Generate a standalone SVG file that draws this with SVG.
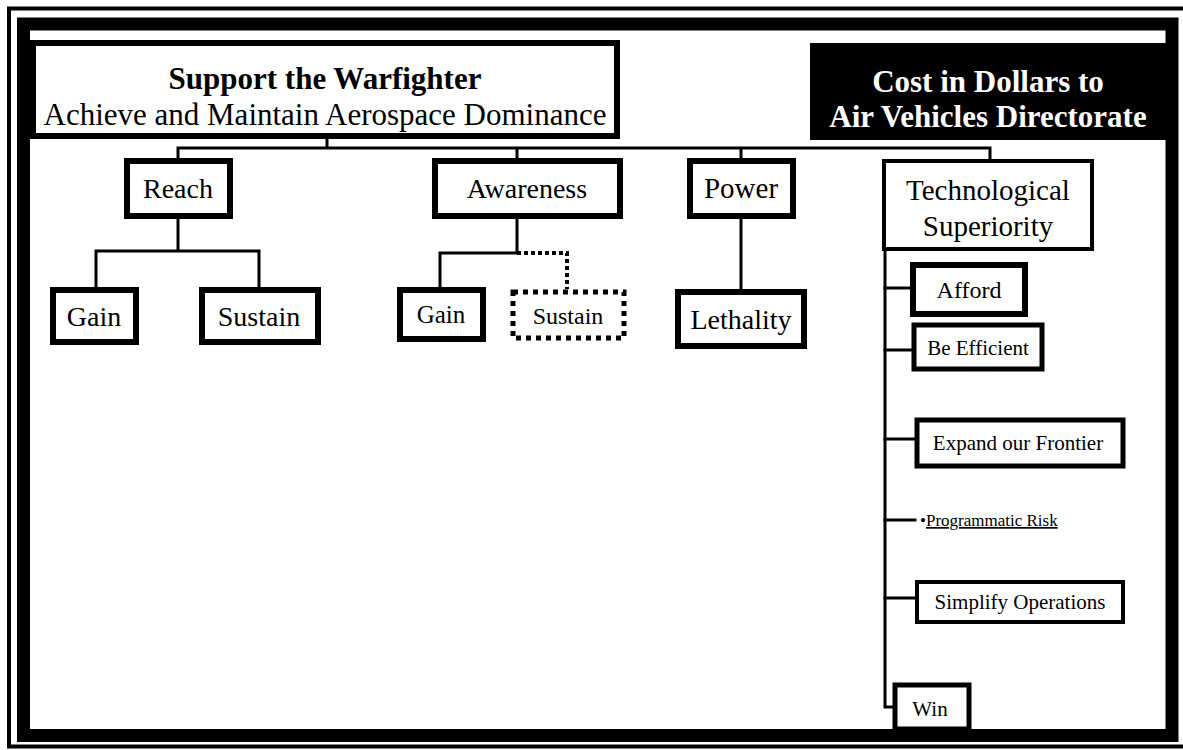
<svg xmlns="http://www.w3.org/2000/svg" width="1183" height="750" viewBox="0 0 1183 750">
  <style>
    text { font-family: "Liberation Serif", "Times New Roman", serif; fill: #000; text-anchor: middle; }
    .box { fill: #fff; stroke: #000; }
    .b6 { stroke-width: 6; }
    .b5 { stroke-width: 5; }
    .b4 { stroke-width: 4; }
    .link { fill: none; stroke: #000; stroke-width: 3; stroke-linecap: square; }
    .head { font-size: 31px; }
    .inv { fill: #fff; font-weight: bold; }
  </style>

  <rect x="0" y="0" width="1183" height="750" fill="#fff"/>

  <!-- page frame: thin outer rule and heavy inner border -->
  <rect x="9" y="8.5" width="1180" height="738" fill="none" stroke="#000" stroke-width="4"/>
  <rect x="23.5" y="24" width="1148.5" height="711.5" fill="none" stroke="#000" stroke-width="13"/>

  <!-- connectors -->
  <g id="connectors">
    <path class="link" d="M327 139 V148 M178 148 H990 M178 148 V160 M517 148 V160 M741 148 V160 M990 148 V158"/>
    <path class="link" d="M178 218 V251 M96 251 H259 M96 251 V287 M259 251 V287"/>
    <path class="link" d="M517 218 V253 H440 V287"/>
    <path d="M517 253 H567 V289" fill="none" stroke="#000" stroke-width="4" stroke-dasharray="4 3"/>
    <path class="link" d="M741 218 V290"/>
    <path class="link" d="M885 250 V707 H893"/>
    <path class="link" d="M885 288 H910 M885 350 H912 M885 439 H915 M885 520 H915 M885 598 H915"/>
  </g>

  <g id="goal">
    <rect class="box" x="33" y="43" width="584" height="93" stroke-width="6"/>
    <text class="head" x="325" y="89" font-weight="bold">Support the Warfighter</text>
    <text class="head" x="325" y="125">Achieve and Maintain Aerospace Dominance</text>
  </g>

  <g id="cost">
    <rect x="810" y="43" width="356" height="97" fill="#000"/>
    <text class="head inv" x="988" y="92">Cost in Dollars to</text>
    <text class="head inv" x="988" y="127">Air Vehicles Directorate</text>
  </g>

  <g id="reach">
    <rect class="box b6" x="127" y="161" width="103" height="55"/>
    <text x="178" y="198" font-size="28">Reach</text>
  </g>
  <g id="reach-gain">
    <rect class="box b6" x="53" y="290" width="83" height="52"/>
    <text x="94" y="326" font-size="28">Gain</text>
  </g>
  <g id="reach-sustain">
    <rect class="box b6" x="202" y="290" width="116" height="52"/>
    <text x="259" y="326" font-size="28">Sustain</text>
  </g>

  <g id="awareness">
    <rect class="box b6" x="435" y="161" width="185" height="55"/>
    <text x="527" y="198" font-size="28">Awareness</text>
  </g>
  <g id="awareness-gain">
    <rect class="box b6" x="400" y="290" width="83" height="49"/>
    <text x="441" y="323" font-size="25">Gain</text>
  </g>
  <g id="awareness-sustain">
    <rect x="513" y="292" width="111" height="46" fill="#fff" stroke="#000" stroke-width="5" stroke-dasharray="5 5"/>
    <text x="568" y="324" font-size="24">Sustain</text>
  </g>

  <g id="power">
    <rect class="box b6" x="690" y="161" width="103" height="55"/>
    <text x="741" y="198" font-size="29">Power</text>
  </g>
  <g id="lethality">
    <rect class="box b6" x="678" y="292" width="126" height="54"/>
    <text x="741" y="329" font-size="28">Lethality</text>
  </g>

  <g id="tech">
    <rect class="box b4" x="884" y="161" width="208" height="88"/>
    <text x="988" y="200" font-size="29">Technological</text>
    <text x="988" y="236" font-size="29">Superiority</text>
  </g>
  <g id="afford">
    <rect class="box b6" x="913" y="265" width="112" height="49"/>
    <text x="969" y="298" font-size="24">Afford</text>
  </g>
  <g id="be-efficient">
    <rect class="box b5" x="914" y="325" width="128" height="44"/>
    <text x="978" y="355" font-size="21">Be Efficient</text>
  </g>
  <g id="expand">
    <rect class="box b5" x="917" y="420" width="206" height="46"/>
    <text x="1018" y="450" font-size="21">Expand our Frontier</text>
  </g>
  <g id="programmatic-risk">
    <text x="920" y="526" font-size="17" style="text-anchor:start">•<tspan text-decoration="underline">Programmatic Risk</tspan></text>
  </g>
  <g id="simplify">
    <rect class="box b4" x="917" y="582" width="206" height="40"/>
    <text x="1020" y="609" font-size="21">Simplify Operations</text>
  </g>
  <g id="win">
    <rect class="box b5" x="895" y="685" width="74" height="44"/>
    <text x="930" y="716" font-size="21">Win</text>
  </g>
</svg>
